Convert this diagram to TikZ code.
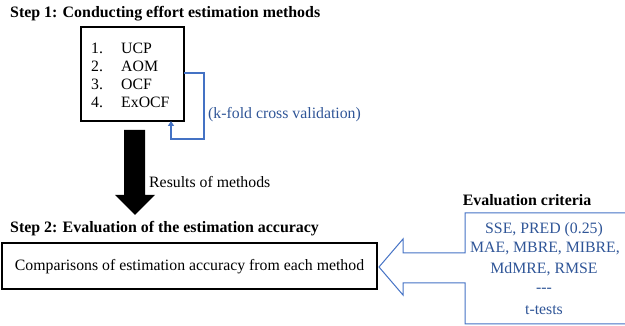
\documentclass[tikz,border=0pt]{standalone}
\usepackage{fontspec}
\setmainfont{Liberation Serif}
\usetikzlibrary{arrows.meta}
\definecolor{bluetext}{RGB}{47,85,151}
\definecolor{blueline}{RGB}{68,114,196}
\tikzset{
  title/.style={font=\fontsize{15.9}{18}\selectfont\bfseries, anchor=west, inner sep=0pt},
  body/.style={font=\fontsize{15.8}{18}\selectfont, inner sep=0pt},
  bluebody/.style={font=\fontsize{15.8}{18}\selectfont, text=bluetext, inner sep=0pt},
  frame/.style={draw=black, line width=1.4pt},
}
\begin{document}
\begin{tikzpicture}[x=1pt,y=-1pt]
\useasboundingbox (0,0) rectangle (625,326);
% Step 1
\node[title] (t1) at (10,14) {Step 1: Conducting effort estimation methods};
\draw[frame] (81,27) rectangle (184,121);
\coordinate (b1r) at (184,73);
\coordinate (b1b) at (171,121);
\node[body, anchor=west] (n1) at (91,48) {1.};
\node[body, anchor=west] (m1) at (121,48) {UCP};
\node[body, anchor=west] (n2) at (91,66) {2.};
\node[body, anchor=west] (m2) at (121,66) {AOM};
\node[body, anchor=west] (n3) at (91,84) {3.};
\node[body, anchor=west] (m3) at (121,84) {OCF};
\node[body, anchor=west] (n4) at (91,102) {4.};
\node[body, anchor=west] (m4) at (121,102) {ExOCF};
\draw[blueline, line width=1.2pt, -{Triangle[length=5pt,width=6pt]}] (b1r) -- (204,73) -- (204,139) -- (171,139) -- (b1b);
\node[bluebody, anchor=west] (kf) at (208,115) {(k-fold cross validation)};
% black arrow
\fill[black] (124,130) -- (145,130) -- (145,195) -- (155,195) -- (135,215) -- (115,195) -- (124,195) -- cycle;
\node[body, anchor=west] (res) at (149,182) {Results of methods};
% Step 2
\node[title] (t2) at (10,229) {Step 2: Evaluation of the estimation accuracy};
\draw[frame] (2,243) rectangle (377,289);
\node[body] (cmp) at (189.5,267) {Comparisons of estimation accuracy from each method};
% criteria arrow box
\draw[blueline, line width=1pt, line join=miter] (630,213) -- (465,213) -- (465,253) -- (403,253) -- (403,239) -- (379,267) -- (403,295) -- (403,283) -- (465,283) -- (465,324) -- (630,324);
\node[font=\fontsize{15.9}{18}\selectfont\bfseries, inner sep=0pt] (ec) at (527,200) {Evaluation criteria};
\node[bluebody] (c1) at (544,230) {SSE, PRED (0.25)};
\node[bluebody] (c2) at (545,249) {MAE, MBRE, MIBRE,};
\node[bluebody] (c3) at (544,269) {MdMRE, RMSE};
\node[bluebody] (c4) at (544,290) {-{}-{}-};
\node[bluebody] (c5) at (544,310) {t-tests};
\end{tikzpicture}
\end{document}
